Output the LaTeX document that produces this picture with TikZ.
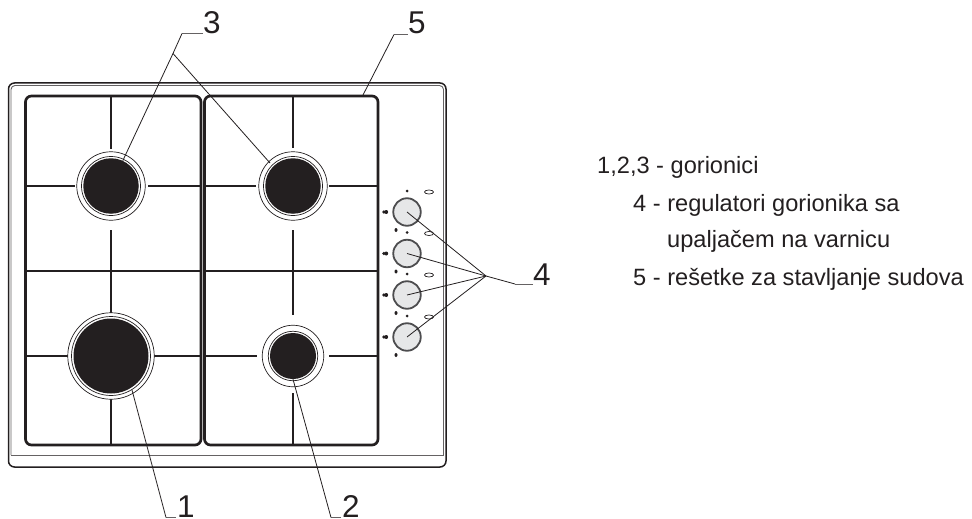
\documentclass[tikz,border=0pt]{standalone}
\usepackage{fontspec}
\setmainfont{Liberation Sans}
\definecolor{ink}{HTML}{231F20}
\definecolor{knobfill}{HTML}{E6E7E8}
\definecolor{knobedge}{HTML}{4D4D4F}
\usetikzlibrary{shapes.geometric}
\tikzset{
  framedark/.style={draw=ink,line width=1.5pt,rounded corners=6pt},
  framethin/.style={draw=ink!70,line width=0.9pt},
  grate/.style={draw=ink,line width=2.7pt,line cap=butt},
  gratebox/.style={draw=ink,line width=2.7pt,rounded corners=6pt},
  flamedisc/.style={circle,fill=ink,draw=none,inner sep=0pt},
  ring/.style={circle,draw=ink,line width=0.7pt,fill=white,inner sep=0pt},
  knob/.style={circle,draw=knobedge,fill=knobfill,line width=1.8pt,inner sep=0pt,minimum size=27.5pt},
  leader/.style={draw=ink,line width=0.8pt},
  leaderh/.style={draw=ink!70,line width=1pt},
  numlabel/.style={anchor=base west,inner sep=0pt,text=ink,font=\fontsize{31.5}{32}\selectfont},
  legend/.style={anchor=base west,inner sep=0pt,text=ink,font=\fontsize{23.6}{24}\selectfont},
  tick/.style={circle,fill=ink,inner sep=0pt,minimum size=3pt},
  bottomtick/.style={ellipse,fill=ink,inner sep=0pt,minimum width=3pt,minimum height=4pt},
  mark oval/.style={ellipse,draw=ink,line width=0.7pt,inner sep=0pt,minimum width=9pt,minimum height=4pt},
}
\begin{document}
\begin{tikzpicture}[x=1pt,y=-1pt]
\useasboundingbox (0,0) rectangle (972,519);
% frame
\draw[framedark] (8.5,83) rectangle (446,467);
\draw[framethin,rounded corners=4pt] (11,455) -- (11,85.5) -- (443.5,85.5) -- (443.5,455);
\draw[framethin] (11,455) -- (443.5,455);
% grates
\draw[gratebox] (25.5,96) rectangle (201,445);
\draw[gratebox] (204.5,96) rectangle (378,445);
% left grate arms
\draw[grate] (111,96) -- (111,149);
\draw[grate] (111,230) -- (111,314);
\draw[grate] (111,397) -- (111,445);
\draw[grate] (25.5,186) -- (75,186);
\draw[grate] (148,186) -- (201,186);
\draw[grate] (25.5,271) -- (201,271);
\draw[grate] (25.5,356) -- (70,356);
\draw[grate] (152,356) -- (201,356);
% right grate arms
\draw[grate] (293,96) -- (293,148);
\draw[grate] (293,230) -- (293,315);
\draw[grate] (293,393) -- (293,445);
\draw[grate] (204.5,186) -- (256,186);
\draw[grate] (329,186) -- (378,186);
\draw[grate] (204.5,271) -- (378,271);
\draw[grate] (204.5,356) -- (257,356);
\draw[grate] (329,356) -- (378,356);
% burners
\node[ring,minimum size=68.5pt] (tlo) at (111,186) {};
\node[ring,minimum size=59pt] (tlm) at (111,186) {};
\node[circle,fill=ink,inner sep=0pt,minimum size=55.5pt] (tl) at (111,186) {};
\node[ring,minimum size=68.5pt] (tro) at (293,186) {};
\node[ring,minimum size=59pt] (trm) at (293,186) {};
\node[circle,fill=ink,inner sep=0pt,minimum size=55.5pt] (tr) at (293,186) {};
\node[ring,minimum size=86.5pt] (blo) at (111,356) {};
\node[ring,minimum size=79pt] (blm) at (111,356) {};
\node[circle,fill=ink,inner sep=0pt,minimum size=75pt] (bl) at (111,356) {};
\node[ring,minimum size=61.5pt] (bro) at (293,356) {};
\node[ring,minimum size=49.5pt] (brm) at (293,356) {};
\node[circle,fill=ink,inner sep=0pt,minimum size=46pt] (br) at (293,356) {};
% knobs
\foreach \n/\y in {a/212,b/253.5,c/295,d/337}{
  \node[knob] (k\n) at (407,\y) {};
  \node[tick] (td\n) at (407,\y-21) {};
  \node[bottomtick] (bd\n) at (396,\y+18) {};
  \node[mark oval] (ov\n) at (429,\y-20) {};
  \node[flamedisc,minimum size=3.6pt] (fa\n) at (383.8,\y) {};
  \node[flamedisc,minimum size=4pt] (fb\n) at (386.2,\y) {};
}
% labels
\node[numlabel] (n3) at (203,34) {3};
\node[numlabel] (n5) at (408,34) {5};
\node[numlabel] (n4) at (533,285) {4};
\node[numlabel] (n1) at (177,517.5) {1};
\node[numlabel] (n2) at (342,517.5) {2};
% leaders
\coordinate (h3) at (182,33.5);
\coordinate (j3) at (173,53.5);
\coordinate (e3) at (203,33.5);
\coordinate (h5) at (394,34.5);
\coordinate (e5) at (408,34.5);
\coordinate (g5) at (363,95);
\coordinate (rt) at (270,163);
\coordinate (j4) at (486,276);
\coordinate (h4) at (515,284);
\coordinate (e4) at (533,284);
\coordinate (h1) at (166,517.5);
\coordinate (e1) at (176,517.5);
\coordinate (h2) at (331,517.5);
\coordinate (e2) at (341,517.5);
\coordinate (b1e) at (132,390);
\draw[leaderh] (e3) -- (h3);
\draw[leader] (h3) -- (j3) -- (tl.65);
\draw[leader] (j3) -- (rt);
\draw[leaderh] (e5) -- (h5);
\draw[leader] (h5) -- (g5);
\draw[leaderh] (e4) -- (h4);
\draw[leader] (h4) -- (j4);
\draw[leader] (j4) -- (ka.center);
\draw[leader] (j4) -- (kb.center);
\draw[leader] (j4) -- (kc.center);
\draw[leader] (j4) -- (kd.center);
\draw[leaderh] (e1) -- (h1);
\draw[leader] (h1) -- (b1e);
\draw[leaderh] (e2) -- (h2);
\draw[leader] (h2) -- (br.south);
% legend
\node[legend] (l1) at (597,173) {1,2,3 - gorionici};
\node[legend] (l2) at (633,211) {4 - regulatori gorionika sa};
\node[legend] (l3) at (667,247) {upaljačem na varnicu};
\node[legend] (l4) at (633,285) {5 - rešetke za stavljanje sudova};
\end{tikzpicture}
\end{document}
